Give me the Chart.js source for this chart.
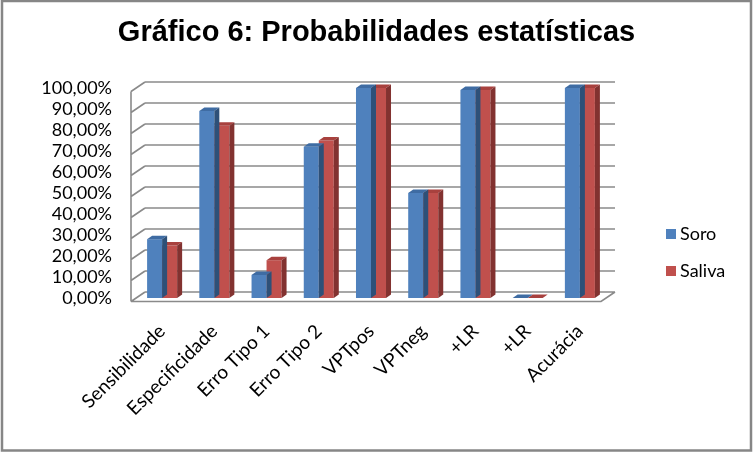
<!DOCTYPE html>
<html>
<head>
<meta charset="utf-8">
<script src="https://cdn.jsdelivr.net/npm/chart.js@4.4.1/dist/chart.umd.min.js"></script>
<style>
  html, body { margin: 0; padding: 0; background: #fff; }
  #c { display: block; }
</style>
</head>
<body>
<canvas id="c" width="753" height="460"></canvas>
<script>
const categories = ['Sensibilidade', 'Especificidade', 'Erro Tipo 1', 'Erro Tipo 2', 'VPTpos', 'VPTneg', '+LR', '+LR', 'Acurácia'];
const soro = [28, 89, 11, 72, 100, 50, 99, 0, 100];
const saliva = [25, 82, 18, 75, 100, 50, 99, 0, 100];
const yTicks = [0, 10, 20, 30, 40, 50, 60, 70, 80, 90, 100];

const FONT = 'Lato, "Open Sans", sans-serif';
// depth offsets
const WALL_FRONT = { dx: -5, dy: 3.5 };
const WALL_BACK = { dx: 9, dy: -6 };
const BAR_DEPTH = { dx: 5, dy: -3.5 };

const frame = {
  id: 'frame',
  beforeDraw(chart) {
    const c = chart.ctx;
    c.save();
    c.fillStyle = '#ffffff';
    c.fillRect(0, 0, chart.width, chart.height);
    c.restore();
  },
  afterDraw(chart) {
    const c = chart.ctx;
    c.save();
    c.strokeStyle = '#868686';
    c.lineWidth = 2.5;
    c.strokeRect(2, 1, 749, 449.5);
    c.restore();
  }
};

const walls = {
  id: 'walls',
  beforeDatasetsDraw(chart) {
    const c = chart.ctx, y = chart.scales.y, a = chart.chartArea;
    c.save();
    c.strokeStyle = '#8a8a8a';
    c.lineWidth = 1.6;
    c.beginPath();
    yTicks.forEach(v => {
      const py = y.getPixelForValue(v);
      c.moveTo(a.left + WALL_BACK.dx, py + WALL_BACK.dy);
      c.lineTo(a.right + WALL_BACK.dx, py + WALL_BACK.dy);
      c.moveTo(a.left + WALL_FRONT.dx, py + WALL_FRONT.dy);
      c.lineTo(a.left + WALL_BACK.dx, py + WALL_BACK.dy);
    });
    const y0 = y.getPixelForValue(0), y100 = y.getPixelForValue(100);
    c.moveTo(a.left + WALL_FRONT.dx, y0 + WALL_FRONT.dy);
    c.lineTo(a.left + WALL_FRONT.dx, y100 + WALL_FRONT.dy);
    c.moveTo(a.left + WALL_FRONT.dx, y0 + WALL_FRONT.dy);
    c.lineTo(a.right + WALL_FRONT.dx, y0 + WALL_FRONT.dy);
    c.lineTo(a.right + WALL_BACK.dx, y0 + WALL_BACK.dy);
    c.stroke();
    c.restore();
  },
  afterDatasetDraw(chart, args) {
    const c = chart.ctx;
    const ds = chart.data.datasets[args.index];
    c.save();
    args.meta.data.forEach(bar => {
      const p = bar.getProps(['x', 'y', 'base', 'width'], true);
      const l = p.x - p.width / 2, r = p.x + p.width / 2;
      const top = Math.min(p.y, p.base), bot = p.base;
      c.fillStyle = ds.topColor;
      c.beginPath();
      c.moveTo(l, top);
      c.lineTo(l + BAR_DEPTH.dx, top + BAR_DEPTH.dy);
      c.lineTo(r + BAR_DEPTH.dx, top + BAR_DEPTH.dy);
      c.lineTo(r, top);
      c.closePath();
      c.fill();
      c.fillStyle = ds.sideColor;
      c.beginPath();
      c.moveTo(r, top);
      c.lineTo(r + BAR_DEPTH.dx, top + BAR_DEPTH.dy);
      c.lineTo(r + BAR_DEPTH.dx, bot + BAR_DEPTH.dy);
      c.lineTo(r, bot);
      c.closePath();
      c.fill();
    });
    c.restore();
  }
};

const legendRight = {
  id: 'legendRight',
  afterDraw(chart) {
    const c = chart.ctx;
    c.save();
    c.font = '18px ' + FONT;
    c.textBaseline = 'middle';
    c.textAlign = 'left';
    chart.data.datasets.forEach((ds, i) => {
      const cy = 234 + i * 37;
      c.fillStyle = ds.backgroundColor;
      c.fillRect(666, cy - 5, 10, 10);
      c.fillStyle = '#000';
      c.fillText(ds.label, 680, cy);
    });
    c.restore();
  }
};

new Chart(document.getElementById('c'), {
  type: 'bar',
  data: {
    labels: categories,
    datasets: [
      { label: 'Soro', data: soro, backgroundColor: '#4F81BD', topColor: '#3F6CA3', sideColor: '#2E5078' },
      { label: 'Saliva', data: saliva, backgroundColor: '#C0504D', topColor: '#A8413E', sideColor: '#823230' }
    ]
  },
  options: {
    responsive: false,
    animation: false,
    devicePixelRatio: 1,
    layout: { padding: 0 },
    datasets: { bar: { categoryPercentage: 0.575, barPercentage: 1.0, borderWidth: 0 } },
    plugins: {
      legend: { display: false },
      tooltip: { enabled: false },
      title: {
        display: true,
        text: 'Gráfico 6: Probabilidades estatísticas',
        color: '#000',
        font: { family: '"Liberation Sans", Arial, sans-serif', size: 29, weight: 'bold', lineHeight: 1.2 },
        padding: { top: 16, bottom: 37.2 }
      }
    },
    scales: {
      y: {
        min: 0, max: 100,
        afterFit(s) { s.width = 136; },
        afterBuildTicks(s) { s.ticks = yTicks.map(v => ({ value: v })); },
        grid: { display: false, drawTicks: false },
        border: { display: false },
        ticks: {
          autoSkip: false,
          padding: 24,
          color: '#000',
          font: { family: FONT, size: 18 },
          callback: v => v.toFixed(2).replace('.', ',') + '%'
        }
      },
      yRight: {
        position: 'right',
        display: true,
        afterFit(s) { s.width = 147; },
        grid: { display: false, drawTicks: false },
        border: { display: false },
        ticks: { display: false }
      },
      x: {
        afterFit(s) { s.height = 162; },
        grid: { display: false, drawTicks: false },
        border: { display: false },
        ticks: {
          autoSkip: false,
          maxRotation: 45, minRotation: 45,
          padding: 22,
          color: '#000',
          font: { family: FONT, size: 19 }
        }
      }
    }
  },
  plugins: [frame, walls, legendRight]
});
</script>
</body>
</html>
